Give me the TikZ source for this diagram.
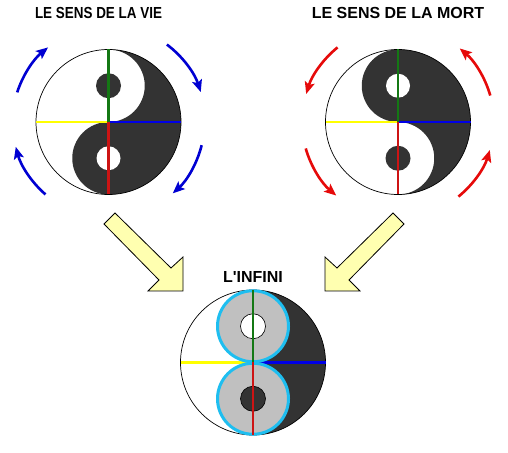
\documentclass[tikz,border=0pt]{standalone}
\usepackage{fontspec}
\setmainfont{Liberation Sans}
\usetikzlibrary{arrows.meta}
\definecolor{yydark}{RGB}{51,51,51}
\definecolor{yygreen}{RGB}{20,120,20}
\definecolor{yyred}{RGB}{205,20,20}
\definecolor{yyblue}{RGB}{0,0,230}
\definecolor{yyyellow}{RGB}{255,255,0}
\definecolor{arrblue}{RGB}{0,0,210}
\definecolor{arrred}{RGB}{230,10,10}
\definecolor{ringcyan}{RGB}{30,190,240}
\definecolor{ringgray}{RGB}{192,192,192}
\definecolor{blockfill}{RGB}{255,255,176}
\tikzset{
  outline/.style={draw=black,line width=0.7pt},
  axisline/.style={line width=2.4pt},
  turnarrow/.style={line width=2.6pt,-{Stealth[length=12pt,width=10pt,inset=2.5pt]}},
  blockarrow/.style={fill=blockfill,draw=black,line width=0.8pt,line join=miter},
  titletext/.style={inner sep=0pt,font=\fontsize{16}{16}\selectfont\bfseries},
  ring/.style={fill=ringgray,draw=ringcyan,line width=3pt},
}
\begin{document}
\begin{tikzpicture}[x=1pt,y=1pt]
\useasboundingbox (0,0) rectangle (508,452);
\fill[white] (0,0) rectangle (508,452);

% titles
\node[titletext] (tvie) at (98.5,439.2) {\scalebox{0.84}[1]{LE SENS DE LA VIE}};
\node[titletext] (tmort) at (398,439.2) {LE SENS DE LA MORT};
\node[titletext] (tinf) at (253,174.7) {L\textquotesingle INFINI};

% left yin-yang (life)
\begin{scope}[shift={(108.5,330)}]
  \coordinate (vie) at (0,0);
  \fill[white] (0,0) circle (72.5);
  \fill[yydark] (0,72.5) arc[start angle=90,end angle=-90,radius=72.5]
    arc[start angle=-90,end angle=-270,radius=36.25]
    arc[start angle=-90,end angle=90,radius=36.25] -- cycle;
  \draw[outline] (0,0) circle (72.5);
  \fill[yydark] (0,36.25) circle (12.5);
  \fill[white] (0,-36.25) circle (12);
  \draw[axisline,yyyellow] (-72.5,0) -- (vie);
  \draw[axisline,yyblue] (vie) -- (72.5,0);
  \draw[axisline,yygreen] (vie) -- (0,72.5);
  \draw[axisline,yyred] (vie) -- (0,-72.5);
  \draw[turnarrow,arrblue] (162:96) arc[start angle=162,end angle=129,radius=96];
  \draw[turnarrow,arrblue] (229:96) arc[start angle=229,end angle=195,radius=96];
  \draw[turnarrow,arrblue] (53:97) arc[start angle=53,end angle=18,radius=97];
  \draw[turnarrow,arrblue] (-14:96) arc[start angle=-14,end angle=-48,radius=96];
\end{scope}

% right yin-yang (death)
\begin{scope}[shift={(398,330)}]
  \coordinate (mort) at (0,0);
  \fill[white] (0,0) circle (72.5);
  \fill[yydark] (0,72.5) arc[start angle=90,end angle=-90,radius=72.5]
    arc[start angle=-90,end angle=90,radius=36.25]
    arc[start angle=-90,end angle=-270,radius=36.25] -- cycle;
  \draw[outline] (0,0) circle (72.5);
  \fill[white] (0,36.25) circle (12);
  \fill[yydark] (0,-36.25) circle (12.5);
  \draw[axisline,yyyellow] (-72.5,0) -- (mort);
  \draw[axisline,yyblue] (mort) -- (72.5,0);
  \draw[axisline,yygreen] (mort) -- (0,72.5);
  \draw[axisline,yyred] (mort) -- (0,-72.5);
  \draw[turnarrow,arrred] (129:96) arc[start angle=129,end angle=163,radius=96];
  \draw[turnarrow,arrred] (196:96) arc[start angle=196,end angle=230,radius=96];
  \draw[turnarrow,arrred] (16:96) arc[start angle=16,end angle=50,radius=96];
  \draw[turnarrow,arrred] (-51:96) arc[start angle=-51,end angle=-17,radius=96];
\end{scope}

% bottom yin-yang (infinity)
\begin{scope}[shift={(253,89.5)}]
  \coordinate (inf) at (0,0);
  \fill[white] (0,0) circle (72.5);
  \fill[yydark] (0,72.5) arc[start angle=90,end angle=-90,radius=72.5] -- cycle;
  \draw[outline] (0,0) circle (72.5);
  \draw[axisline,yyyellow] (-72.5,0) -- (inf);
  \draw[axisline,yyblue] (inf) -- (72.5,0);
  \draw[ring] (0,36.25) circle (35.5);
  \draw[ring] (0,-36.25) circle (35.5);
  \filldraw[fill=white,draw=black,line width=0.6pt] (0,36.25) circle (12.5);
  \filldraw[fill=yydark,draw=black,line width=0.6pt] (0,-36.25) circle (12.5);
  \draw[axisline,yygreen] (inf) -- (0,72.5);
  \draw[axisline,yyred] (inf) -- (0,-72.5);
\end{scope}

% yellow block arrows
\draw[blockarrow] (115,239) -- (171,184) -- (183,195) -- (183,161) -- (148,161) -- (159,172) -- (104,228) -- cycle;
\draw[blockarrow] (393,239) -- (337,184) -- (325,195) -- (325,161) -- (360,161) -- (349,172) -- (404,228) -- cycle;
\end{tikzpicture}
\end{document}
